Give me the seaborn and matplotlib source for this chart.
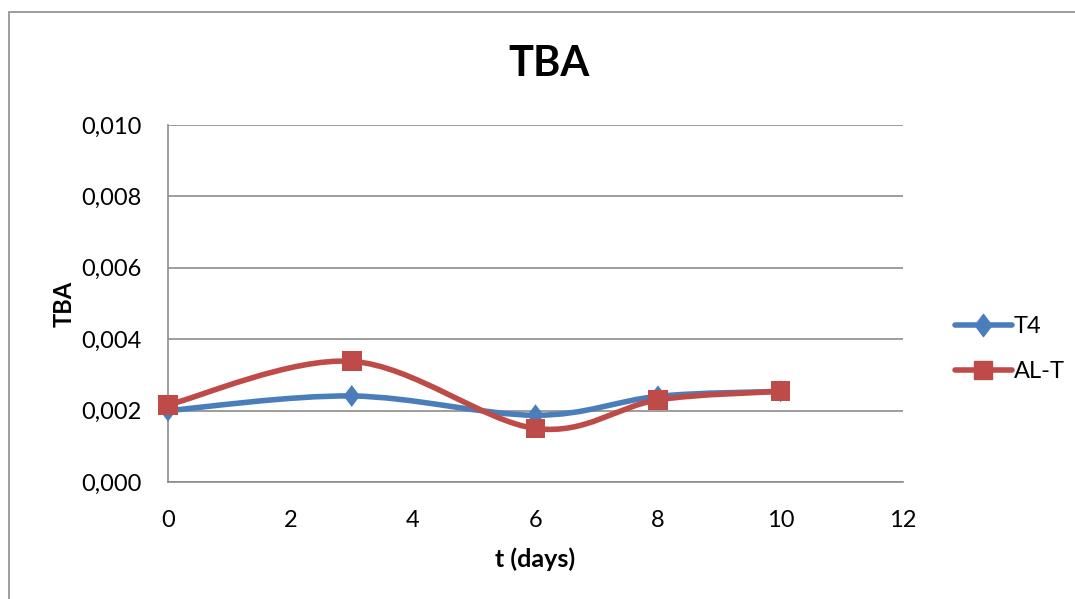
import numpy as np
import pandas as pd
import seaborn as sns
import matplotlib
matplotlib.use("Agg")
import matplotlib.pyplot as plt
from matplotlib.path import Path
from matplotlib.patches import PathPatch, Rectangle
from matplotlib.lines import Line2D

# --- data ---
days = [0, 3, 6, 8, 10]
tba_t4 = [0.00200, 0.00241, 0.00187, 0.00240, 0.00254]
tba_alt = [0.00216, 0.00338, 0.00150, 0.00230, 0.00254]
series_names = ["T4", "AL-T"]
y_ticks = [0.000, 0.002, 0.004, 0.006, 0.008, 0.010]
x_ticks = [0, 2, 4, 6, 8, 10, 12]

BLUE = "#4A7EBB"
RED = "#BE4B48"
GRID = "#8C8C8C"

sns.set_theme(style="white")
plt.rcParams["font.family"] = ["Lato", "DejaVu Sans"]
plt.rcParams["text.color"] = "black"
plt.rcParams["axes.labelcolor"] = "black"
plt.rcParams["xtick.color"] = "black"
plt.rcParams["ytick.color"] = "black"

# diamond a bit taller than it is wide
DIAMOND = Path([(0, 1), (0.75, 0), (0, -1), (-0.75, 0), (0, 1)],
               [Path.MOVETO, Path.LINETO, Path.LINETO, Path.LINETO, Path.CLOSEPOLY])

fig = plt.figure(figsize=(10.75, 5.99), dpi=100)
fig.patch.set_facecolor("white")

# chart frame
fig.add_artist(Rectangle((9 / 1075, -0.05), 1.2, 1 - 12 / 599 + 0.05,
                         transform=fig.transFigure, fill=False,
                         edgecolor="#8C8C8C", linewidth=1.2))

ax = fig.add_axes([168 / 1075, 1 - 482 / 599, (903 - 168) / 1075, (482 - 125) / 599])


def smooth_path(xs, ys):
    """Cubic Bezier through the points (Catmull-Rom style control points)."""
    xs = np.asarray(xs, float)
    ys = np.asarray(ys, float)
    n = len(xs)
    verts = [(xs[0], ys[0])]
    codes = [Path.MOVETO]
    for i in range(n - 1):
        p0 = (xs[max(i - 1, 0)], ys[max(i - 1, 0)])
        p1 = (xs[i], ys[i])
        p2 = (xs[i + 1], ys[i + 1])
        p3 = (xs[min(i + 2, n - 1)], ys[min(i + 2, n - 1)])
        c1 = (p1[0] + (p2[0] - p0[0]) / 6, p1[1] + (p2[1] - p0[1]) / 6)
        c2 = (p2[0] - (p3[0] - p1[0]) / 6, p2[1] - (p3[1] - p1[1]) / 6)
        verts += [c1, c2, p2]
        codes += [Path.CURVE4] * 3
    return Path(verts, codes)


series = [
    (series_names[0], tba_t4, BLUE, DIAMOND, 250),
    (series_names[1], tba_alt, RED, "s", 205),
]

# smooth connecting curves for each series, then its markers on top
z = 3
for name, vals, color, marker, size in series:
    ax.add_patch(PathPatch(smooth_path(days, vals), facecolor="none",
                           edgecolor=color, linewidth=4.0, capstyle="round",
                           joinstyle="round", clip_on=False, zorder=z))
    df = pd.DataFrame({"t": days, "TBA": vals})
    sns.scatterplot(data=df, x="t", y="TBA", color=color, marker=marker,
                    s=size, edgecolor="none", linewidth=0, ax=ax,
                    legend=False, zorder=z + 0.5, clip_on=False)
    z += 1

ax.set_xlim(0, 12)
ax.set_ylim(0, 0.010)
ax.set_xticks(x_ticks)
ax.set_yticks(y_ticks)
ax.set_xticklabels([str(v) for v in x_ticks], fontsize=17)
ax.set_yticklabels([f"{v:.3f}".replace(".", ",") for v in y_ticks], fontsize=17)
ax.tick_params(axis="both", length=0)
ax.tick_params(axis="x", pad=20)
ax.tick_params(axis="y", pad=19)

ax.grid(axis="y", color=GRID, linewidth=1.2)
ax.grid(axis="x", visible=False)
for side in ["top", "right"]:
    ax.spines[side].set_visible(False)
for side in ["left", "bottom"]:
    ax.spines[side].set_color(GRID)
    ax.spines[side].set_linewidth(1.2)

ax.set_xlabel("t (days)", fontsize=18, fontweight="bold", labelpad=12)
ax.set_ylabel("TBA", fontsize=17, fontweight="bold", labelpad=4)
fig.text(549 / 1075, 1 - 64 / 599, "TBA", ha="center", va="center",
         fontsize=30, fontweight="bold")

handles = [
    Line2D([], [], color=BLUE, linewidth=4.0, marker=DIAMOND, markersize=16),
    Line2D([], [], color=RED, linewidth=4.0, marker="s", markersize=13),
]
fig.legend(handles, series_names, loc="center left",
           bbox_to_anchor=(955 / 1075, 1 - 349 / 599), frameon=False,
           borderpad=0, borderaxespad=0,
           fontsize=17, handlelength=2.4, handletextpad=0.1, labelspacing=1.0)

fig.savefig("out.png", dpi=100, facecolor="white")
